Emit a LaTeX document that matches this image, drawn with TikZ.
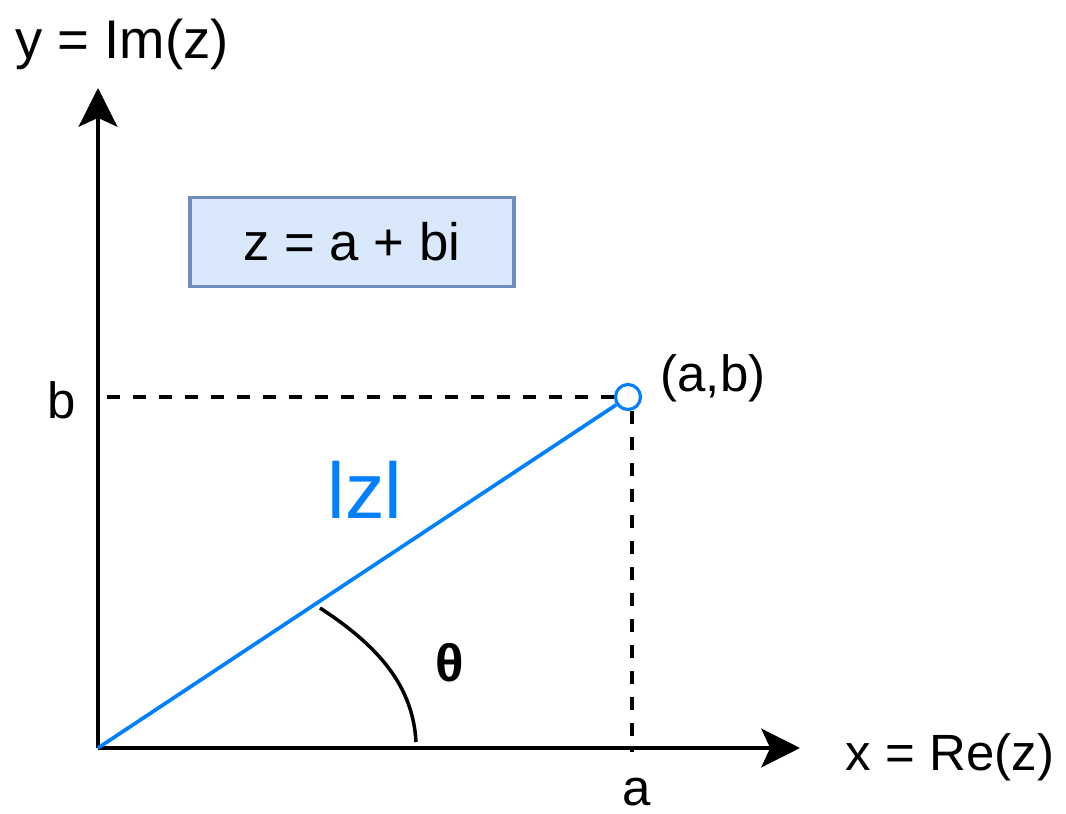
\documentclass[tikz,border=0pt]{standalone}
\usepackage{fontspec}
\setmainfont{Liberation Sans}
\usetikzlibrary{arrows.meta}
\definecolor{zblue}{RGB}{0,127,255}
\definecolor{boxfill}{RGB}{218,232,252}
\definecolor{boxline}{RGB}{108,142,191}

\begin{document}
\begin{tikzpicture}[x=0.02cm, y=-0.02cm,
  axis/.style={line width=2.2pt, -{Stealth[length=22pt, width=22pt, inset=5pt]}},
  guide/.style={line width=2pt, dash pattern=on 7.4pt off 7.4pt},
  lbl/.style={inner sep=0pt, font=\fontsize{29}{34}\selectfont}]
\useasboundingbox (0,0) rectangle (1066,814);
% axes
\coordinate (O) at (98,748);
\coordinate (ytip) at (98,88);
\coordinate (xtip) at (800,748);
\draw[axis] (O) -- (ytip);
\draw[axis] (O) -- (xtip);
\node[lbl, font=\fontsize{31}{36}\selectfont] (ylab) at (122,44) {y = Im(z)};
\node[lbl] (xlab) at (950,757) {x = Re(z)};
% formula box
\node[lbl, font=\fontsize{30}{34}\selectfont, draw=boxline, fill=boxfill, line width=1.8pt, minimum width=6.48cm, minimum height=1.78cm] (form) at (352,242) {z = a + bi};
% point and projections
\node[circle, draw=zblue, fill=white, line width=1.8pt, minimum size=0.5cm, inner sep=0pt] (pt) at (628,397) {};
\coordinate (bmark) at (98,397);
\coordinate (amark) at (632,752);
\draw[guide] (pt.west) -- (bmark);
\draw[guide] (pt.south -| amark) -- (amark);
\draw[zblue, line width=2.1pt] (O) -- (pt);
\node[lbl] (blab) at (62,400) {b};
\node[lbl] (alab) at (637,792) {a};
\node[lbl] (ptlab) at (713,378) {(a,b)};
\node[lbl, text=zblue, font=\fontsize{45}{50}\selectfont] (mod) at (365,490) {lzl};
% angle
\coordinate (arcs) at (320,608);
\coordinate (arce) at (416,742);
\draw[line width=2pt] (arcs) .. controls (380,647) and (413,687) .. (arce);
\node[lbl, font=\fontsize{30}{34}\selectfont\bfseries] (th) at (450,663) {θ};
\end{tikzpicture}
\end{document}
